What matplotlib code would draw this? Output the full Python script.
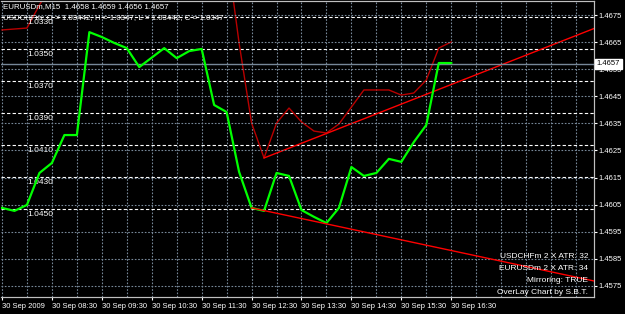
import matplotlib.pyplot as plt
import numpy as np

plt.rcParams['font.family'] = ['Liberation Sans', 'DejaVu Sans']

# M15 bars, label every 4 bars
time_labels = ['30 Sep 2009', '30 Sep 08:30', '30 Sep 09:30', '30 Sep 10:30', '30 Sep 11:30',
               '30 Sep 12:30', '30 Sep 13:30', '30 Sep 14:30', '30 Sep 15:30', '30 Sep 16:30']

eurusd_close = [1.46038, 1.46027, 1.46049, 1.46167, 1.46204, 1.46307, 1.46307, 1.46687,
                1.46669, 1.46647, 1.46628, 1.46558, 1.46593, 1.46628, 1.46591, 1.46617,
                1.46625, 1.46418, 1.46392, 1.46171, 1.46038, 1.46027, 1.46167, 1.46156,
                1.46030, 1.46005, 1.45982, 1.46038, 1.46189, 1.46156, 1.46167, 1.46219,
                1.46208, 1.46281, 1.46344, 1.46573, 1.46573]

# mirrored USDCHF overlay (part of it runs off the top of the chart)
usdchf_close = [1.03381, 1.03375, 1.03369, 1.03225, 1.03100, 1.03040, 1.03000, 1.02980,
                1.02960, 1.03000, 1.02980, 1.02970, 1.02990, 1.03010, 1.03000, 1.02990,
                1.02980, 1.03010, 1.02880, 1.03463, 1.03963, 1.04181, 1.03963, 1.03869,
                1.03956, 1.04013, 1.04025, 1.03969, 1.03863, 1.03756, 1.03756, 1.03756,
                1.03788, 1.03775, 1.03694, 1.03494, 1.03456]

eur_ticks = [1.4575, 1.4585, 1.4595, 1.4605, 1.4615, 1.4625, 1.4635, 1.4645, 1.4655, 1.4665, 1.4675]
chf_levels = [1.0330, 1.0350, 1.0370, 1.0390, 1.0410, 1.0430, 1.0450]

eur_trend_bars = [20, 26]
eur_trend_vals = [1.46038, 1.45979]
chf_trend_bars = [21, 26]
chf_trend_vals = [1.04181, 1.04028]

last_price = 1.4657
header_eur = 'EURUSDm,M15  1.4658 1.4659 1.4656 1.4657'
header_chf = 'USDCHFm: O = 1.03442, H = 1.0347, L = 1.03442, C = 1.0347'
info_lines = ['USDCHFm 2 X ATR: 32', 'EURUSDm 2 X ATR: 34', 'Mirroring: TRUE', 'OverLay Chart by S.B.T.']

W, H = 625, 314
fig = plt.figure(figsize=(W / 100, H / 100), dpi=100, facecolor='black')
ax_chf = fig.add_axes([1 / W, (H - 297) / H, 593 / W, 296 / H], facecolor='black')
ax_eur = ax_chf.twinx()

bars = np.arange(len(eurusd_close))
ax_chf.set_xlim(-0.08, 47.44)
ax_chf.set_ylim(1.0505, 1.0320)
ax_eur.set_ylim(1.45709, 1.46802)

# gray dotted grid
for b in range(0, 48, 2):
    ax_chf.axvline(b, color='#778899', lw=0.8, ls=(0, (1.5, 1.5)), zorder=0)
for t in eur_ticks:
    ax_eur.axhline(t, color='#778899', lw=0.8, ls=(0, (1.5, 1.5)), zorder=0)

# USDCHF levels (white dashed) with inner labels
for lvl in chf_levels:
    ax_chf.axhline(lvl, color='white', lw=0.8, ls=(0, (3, 2)), zorder=1)
    ax_chf.annotate(f'{lvl:.4f}', xy=(26 / 593, lvl), xycoords=('axes fraction', 'data'),
                    xytext=(0, -1.2), textcoords='offset points', va='top', ha='left',
                    color='white', fontsize=6)

ax_chf.plot(bars, usdchf_close, color='#b80000', lw=1, zorder=2)
p = np.polyfit(chf_trend_bars, chf_trend_vals, 1)
tx = np.array([chf_trend_bars[0], 48])
ax_chf.plot(tx, np.polyval(p, tx), color='#ff0000', lw=1, zorder=2)

ax_eur.axhline(last_price, color='#778899', lw=1, zorder=1)
ax_eur.plot(bars, eurusd_close, color='#00ff00', lw=1.6, zorder=3)
p = np.polyfit(eur_trend_bars, eur_trend_vals, 1)
tx = np.array([eur_trend_bars[0], 48])
ax_eur.plot(tx, np.polyval(p, tx), color='#ff0000', lw=1, zorder=4)

# axes styling
for ax in (ax_chf, ax_eur):
    for side in ('top', 'right', 'bottom'):
        ax.spines[side].set_color('#c0c0c0')
        ax.spines[side].set_linewidth(0.8)
    ax.spines['left'].set_visible(False)

ax_chf.set_yticks([])
ax_chf.set_xticks(range(0, 4 * len(time_labels), 4))
ax_chf.set_xticklabels(time_labels, ha='left')
ax_chf.tick_params(axis='x', colors='white', labelsize=5.5, length=2.5, pad=2, width=0.8)

ax_eur.set_yticks(eur_ticks)
ax_eur.set_yticklabels([f'{t:.4f}' for t in eur_ticks])
ax_eur.tick_params(axis='y', colors='white', labelsize=5.5, length=2, pad=1.5, width=0.8)

ax_eur.annotate(f'{last_price:.4f}', xy=(1, last_price), xycoords=('axes fraction', 'data'),
                xytext=(2, 0), textcoords='offset points', va='center', ha='left',
                color='black', fontsize=5.5,
                bbox=dict(boxstyle='square,pad=0.2', fc='white', ec='white'))

fig.text(3 / W, 1 - 7 / H, header_eur, color='white', fontsize=5.7, va='center', ha='left')
fig.text(3 / W, 1 - 18 / H, header_chf, color='white', fontsize=5.7, va='center', ha='left')

for txt, yy in zip(info_lines, [256, 268, 281, 292]):
    fig.text(588 / W, 1 - yy / H, txt, color='white', fontsize=6, va='center', ha='right')

fig.savefig('out.png', dpi=100, facecolor='black')
